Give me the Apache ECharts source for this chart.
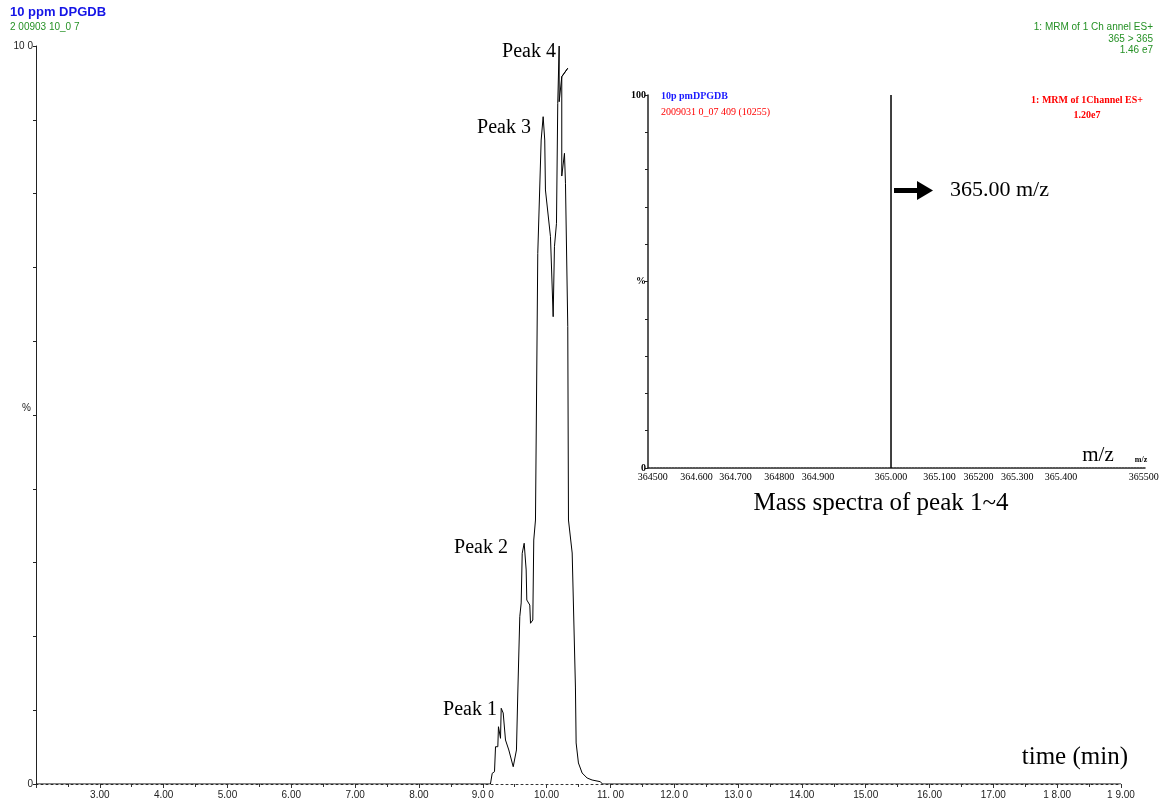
<!DOCTYPE html>
<html>
<head>
<meta charset="utf-8">
<script src="https://cdn.jsdelivr.net/npm/echarts@6/dist/echarts.min.js"></script>
<style>
  html, body { margin: 0; padding: 0; background: #fff; }
  #chart { width: 1165px; height: 805px; }
</style>
</head>
<body>
<div id="chart"></div>
<script>
// chromatogram (time in min, signal in %)
const chromTime = [2.0, 9.12, 9.148, 9.184, 9.2, 9.236, 9.246, 9.267, 9.278, 9.289, 9.32, 9.356, 9.408, 9.477,
    9.528, 9.549, 9.58, 9.602, 9.618, 9.649, 9.68, 9.69, 9.737, 9.748, 9.784, 9.799, 9.826, 9.862, 9.915,
    9.946, 9.971, 9.982, 10.061, 10.103, 10.123, 10.155, 10.175, 10.197, 10.197, 10.238, 10.331, 10.238,
    10.238, 10.28, 10.296, 10.332, 10.343, 10.401, 10.452, 10.463, 10.499, 10.557, 10.635, 10.713, 10.843,
    10.875, 19.0];
const chromSignal = [0, 0, 1.45, 1.67, 5.05, 5.05, 7.76, 7.76, 6.19, 10.26, 9.62, 5.96, 4.61, 2.34,
    4.61, 12.33, 22.67, 24.53, 31.26, 32.62, 29.0, 24.93, 24.25, 21.78, 22.22, 33.06, 35.77, 71.9, 87.26,
    90.42, 87.26, 80.49, 74.16, 63.32, 72.8, 75.97, 92.24, 100, 92.45, 95.84, 96.98, 95.84,
    82.38, 85.46, 81.4, 61.97, 35.77, 31.3, 13.14, 5.56, 2.85, 1.49, 0.81, 0.54, 0.31,
    0, 0];
const timeTickLabels = ['3.00', '4.00', '5.00', '6.00', '7.00', '8.00', '9.0 0', '10.00', '11. 00',
    '12.0 0', '13.0 0', '14.00', '15.00', '16.00', '17.00', '1 8.00', '1 9.00'];

// mass spectrum inset
const spectrumMz = [365.0, 365.0];
const spectrumIntensity = [0, 100];
const mzTickValues = [364.51, 364.60, 364.68, 364.77, 364.85, 365.00, 365.10, 365.18, 365.26, 365.35, 365.52];
const mzTickLabels = ['364500', '364.600', '364.700', '364800', '364.900', '365.000', '365.100',
    '365200', '365.300', '365.400', '365500'];

const peakLabels = ['Peak 1', 'Peak 2', 'Peak 3', 'Peak 4'];

const serif = '"Liberation Serif", "DejaVu Serif", serif';
const sans = '"Liberation Sans", Arial, sans-serif';
const green = '#259125';

var chartDom = document.getElementById('chart');
var myChart = echarts.init(chartDom);

const chromData = chromTime.map((t, i) => [t, chromSignal[i]]);
const spectrumData = spectrumMz.map((m, i) => {
    if (spectrumIntensity[i] === 100) {
        return { value: [m, spectrumIntensity[i]],
            label: { show: true, position: 'top', distance: -6, formatter: '365.0',
                fontFamily: serif, fontSize: 10, color: '#000' } };
    }
    return [m, spectrumIntensity[i]];
});

var option = {
    animation: false,
    backgroundColor: '#fff',
    grid: [
        { left: 36, right: 44, top: 46, bottom: 21 },
        { left: 648, right: 20, top: 95, bottom: 337 }
    ],
    xAxis: [
        {
            gridIndex: 0, type: 'value', min: 2, max: 19, interval: 1,
            axisLine: { lineStyle: { color: '#333', width: 1, type: [2, 3] } },
            axisTick: { show: true, length: 4, lineStyle: { color: '#333' } },
            minorTick: { show: true, splitNumber: 2, length: 3, lineStyle: { color: '#333' } },
            splitLine: { show: false },
            axisLabel: {
                fontFamily: sans, fontSize: 10, color: '#222', margin: 6,
                formatter: v => (v >= 3 ? timeTickLabels[Math.round(v) - 3] : '')
            }
        },
        {
            gridIndex: 1, type: 'value', min: 364.5, max: 365.5226,
            axisLine: { lineStyle: { color: '#222', width: 1.5, type: [2, 1] } },
            axisTick: { show: false },
            splitLine: { show: false },
            axisLabel: {
                customValues: mzTickValues,
                fontFamily: serif, fontSize: 10, color: '#000', margin: 4,
                formatter: v => {
                    const i = mzTickValues.findIndex(m => Math.abs(m - v) < 1e-6);
                    return i >= 0 ? mzTickLabels[i] : '';
                }
            }
        }
    ],
    yAxis: [
        {
            gridIndex: 0, type: 'value', min: 0, max: 100, interval: 10,
            axisLine: { show: true, lineStyle: { color: '#222', width: 1 } },
            axisTick: { show: true, length: 3, lineStyle: { color: '#222' } },
            splitLine: { show: false },
            axisLabel: {
                fontFamily: sans, fontSize: 10, color: '#222', margin: 3,
                formatter: v => (v === 100 ? '10 0' : v === 0 ? '0' : v === 50 ? '{p|%}' : ''),
                rich: { p: { fontFamily: sans, fontSize: 10, color: '#222', padding: [0, 2, 14, 0] } }
            }
        },
        {
            gridIndex: 1, type: 'value', min: 0, max: 100, interval: 10,
            axisLine: { show: true, lineStyle: { color: '#222', width: 1.5 } },
            axisTick: { show: true, length: 3, lineStyle: { color: '#222' } },
            splitLine: { show: false },
            axisLabel: {
                fontFamily: serif, fontSize: 10, fontWeight: 'bold', color: '#000', margin: 2,
                formatter: v => (v === 100 ? '100' : v === 0 ? '0' : v === 50 ? '%' : ''),
                rotate: 0
            }
        }
    ],
    series: [
        {
            type: 'line', xAxisIndex: 0, yAxisIndex: 0,
            data: chromData, symbol: 'none',
            lineStyle: { color: '#000', width: 1 }
        },
        {
            type: 'line', xAxisIndex: 1, yAxisIndex: 1,
            data: spectrumData, symbol: 'none',
            lineStyle: { color: '#000', width: 1.5 }
        }
    ],
    graphic: [
        { type: 'text', left: 10, top: 6, style: { text: '10 ppm DPGDB', font: 'bold 13px ' + sans, fill: '#1515e6' } },
        { type: 'text', left: 10, top: 22, style: { text: '2 00903 10_0 7', font: '10px ' + sans, fill: green } },
        { type: 'text', right: 12, top: 22, style: { text: '1: MRM of 1 Ch annel ES+', font: '10px ' + sans, fill: green, align: 'right' } },
        { type: 'text', right: 12, top: 34, style: { text: '365 > 365', font: '10px ' + sans, fill: green, align: 'right' } },
        { type: 'text', right: 12, top: 45, style: { text: '1.46 e7', font: '10px ' + sans, fill: green, align: 'right' } },

        { type: 'text', x: 497, y: 710, style: { text: peakLabels[0], font: '20px ' + serif, fill: '#000', align: 'right', verticalAlign: 'middle' } },
        { type: 'text', x: 508, y: 548, style: { text: peakLabels[1], font: '20px ' + serif, fill: '#000', align: 'right', verticalAlign: 'middle' } },
        { type: 'text', x: 531, y: 128, style: { text: peakLabels[2], font: '20px ' + serif, fill: '#000', align: 'right', verticalAlign: 'middle' } },
        { type: 'text', x: 556, y: 52, style: { text: peakLabels[3], font: '20px ' + serif, fill: '#000', align: 'right', verticalAlign: 'middle' } },
        { type: 'text', x: 1128, y: 757, style: { text: 'time (min)', font: '25px ' + serif, fill: '#000', align: 'right', verticalAlign: 'middle' } },

        { type: 'text', x: 661, y: 96, style: { text: '10p pmDPGDB', font: 'bold 10px ' + serif, fill: '#1a1aff', verticalAlign: 'middle' } },
        { type: 'text', x: 661, y: 112, style: { text: '2009031 0_07 409 (10255)', font: '10px ' + serif, fill: '#ff0000', verticalAlign: 'middle' } },
        { type: 'text', x: 1087, y: 100, style: { text: '1: MRM of 1Channel ES+', font: 'bold 10px ' + serif, fill: '#ff0000', align: 'center', verticalAlign: 'middle' } },
        { type: 'text', x: 1087, y: 115, style: { text: '1.20e7', font: 'bold 10px ' + serif, fill: '#ff0000', align: 'center', verticalAlign: 'middle' } },
        { type: 'text', x: 950, y: 190, style: { text: '365.00 m/z', font: '22px ' + serif, fill: '#000', verticalAlign: 'middle' } },
        { type: 'rect', shape: { x: 894, y: 188, width: 24, height: 5 }, style: { fill: '#000' } },
        { type: 'polygon', shape: { points: [[917, 181], [933, 190.5], [917, 200]] }, style: { fill: '#000' } },
        { type: 'text', x: 1098, y: 455, style: { text: 'm/z', font: '21px ' + serif, fill: '#000', align: 'center', verticalAlign: 'middle' } },
        { type: 'text', x: 1141, y: 460, style: { text: 'm/z', font: 'bold 8px ' + serif, fill: '#000', align: 'center', verticalAlign: 'middle' } },
        { type: 'text', x: 881, y: 503, style: { text: 'Mass spectra of peak 1~4', font: '25px ' + serif, fill: '#000', align: 'center', verticalAlign: 'middle' } }
    ]
};

option && myChart.setOption(option);
</script>
</body>
</html>
